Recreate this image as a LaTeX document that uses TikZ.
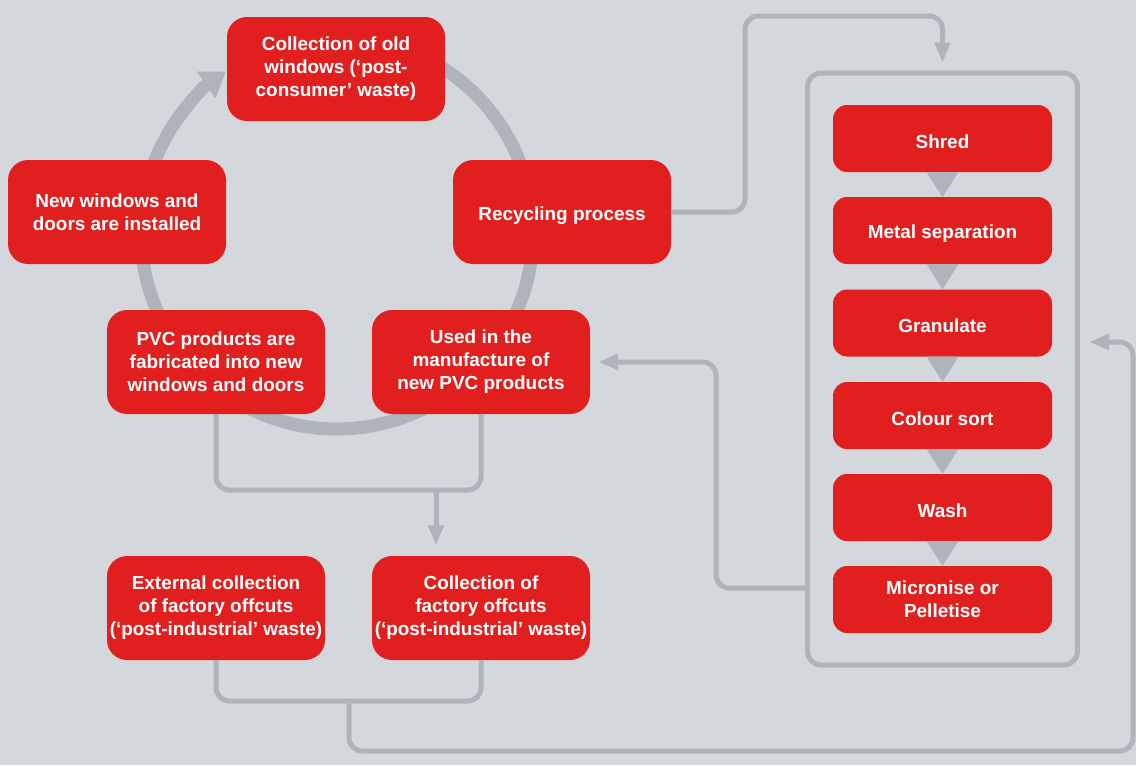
\documentclass[tikz,border=0pt]{standalone}
\usepackage{fontspec}
\setmainfont{Liberation Sans}
\usepackage{tikz}
\usetikzlibrary{positioning, calc, fit, arrows.meta}
\definecolor{CycleRed}{HTML}{E21F1F}
\definecolor{CycleBack}{HTML}{D4D7DC}
\definecolor{CycleGrey}{HTML}{AEB4BC}

\begin{document}
\begin{tikzpicture}[x=0.75pt, y=-0.75pt,
  bigbox/.style={fill=CycleRed, rounded corners=15pt, minimum width=163.5pt, minimum height=78pt,
    inner sep=0pt, outer sep=0pt, align=center, text=white, font=\fontsize{14.2}{17.25}\selectfont\bfseries,
    execute at begin node={\rule{0pt}{15pt}}},
  stepbox/.style={bigbox, rounded corners=10.5pt, minimum width=164.25pt, minimum height=50.25pt},
  link/.style={draw=CycleGrey, line width=3.75pt, rounded corners=10pt},
  tip/.style={-{Triangle[length=15pt, width=11.25pt]}},
  ring/.style={draw=CycleGrey, line width=9.75pt, -{Triangle[length=18pt, width=23pt]}},
  tri/.style={fill=CycleGrey}]

  % Background
  \fill[CycleBack] (0,0) rectangle (1136,765);

  % Cycle ring
  \draw[ring] (337,233) ++(-60:196) arc[start angle=-60, end angle=235.5, radius=196];

  % Cycle boxes
  \node[bigbox] (collect) at (336,69) {Collection of old\\windows (‘post-\\consumer’ waste)};
  \node[bigbox] (install) at (117,212) {New windows and\\doors are installed};
  \node[bigbox] (recycle) at (562,212) {Recycling process};
  \node[bigbox] (pvc) at (216,362) {PVC products are\\fabricated into new\\windows and doors};
  \node[bigbox] (used) at (481,362) {Used in the\\manufacture of\\new PVC products};

  % Offcut boxes
  \node[bigbox] (extern) at (216,608) {External collection\\of factory offcuts\\(‘post-industrial’ waste)};
  \node[bigbox] (offcut) at (481,608) {Collection of\\factory offcuts\\(‘post-industrial’ waste)};

  % Recycling steps
  \node[stepbox] (s1) at (942.5,138.5) {Shred};
  \node[stepbox] (s2) at (942.5,230.5) {Metal separation};
  \node[stepbox] (s3) at (942.5,323) {Granulate};
  \node[stepbox] (s4) at (942.5,415.5) {Colour sort};
  \node[stepbox] (s5) at (942.5,507.5) {Wash};
  \node[stepbox] (s6) at (942.5,599.5) {Micronise or\\Pelletise};
  \foreach \a/\b in {s1/s2, s2/s3, s3/s4, s4/s5, s5/s6} {
    \fill[tri] ([xshift=-12pt]\a.south) -- ([xshift=12pt]\a.south) -- (\b.north) -- cycle;
  }
  \node[draw=CycleGrey, line width=3.75pt, rounded corners=10pt, inner xsep=19pt, inner ysep=24pt,
    fit=(s1)(s6)] (frame) {};

  % Connectors
  \coordinate (merge) at (436,490);
  \coordinate (join) at (349,702);
  \coordinate (back) at (805,588);
  \coordinate (reentry) at (1089,342);

  \draw[link, tip] (recycle.east) -| (745,16) -| ([yshift=6pt]frame.north);
  \draw[link, tip] (back) -| (716,362) -- ([xshift=6pt]used.east);
  \draw[link] (pvc.south) -- ++(0,76) -| (used.south);
  \draw[link, tip] (merge) -- ([yshift=8pt]merge |- offcut.north);
  \draw[link] (extern.south) -- ++(0,41) -| (offcut.south);
  \draw[link, tip] (join) |- (1133,751) |- (reentry);
\end{tikzpicture}
\end{document}
